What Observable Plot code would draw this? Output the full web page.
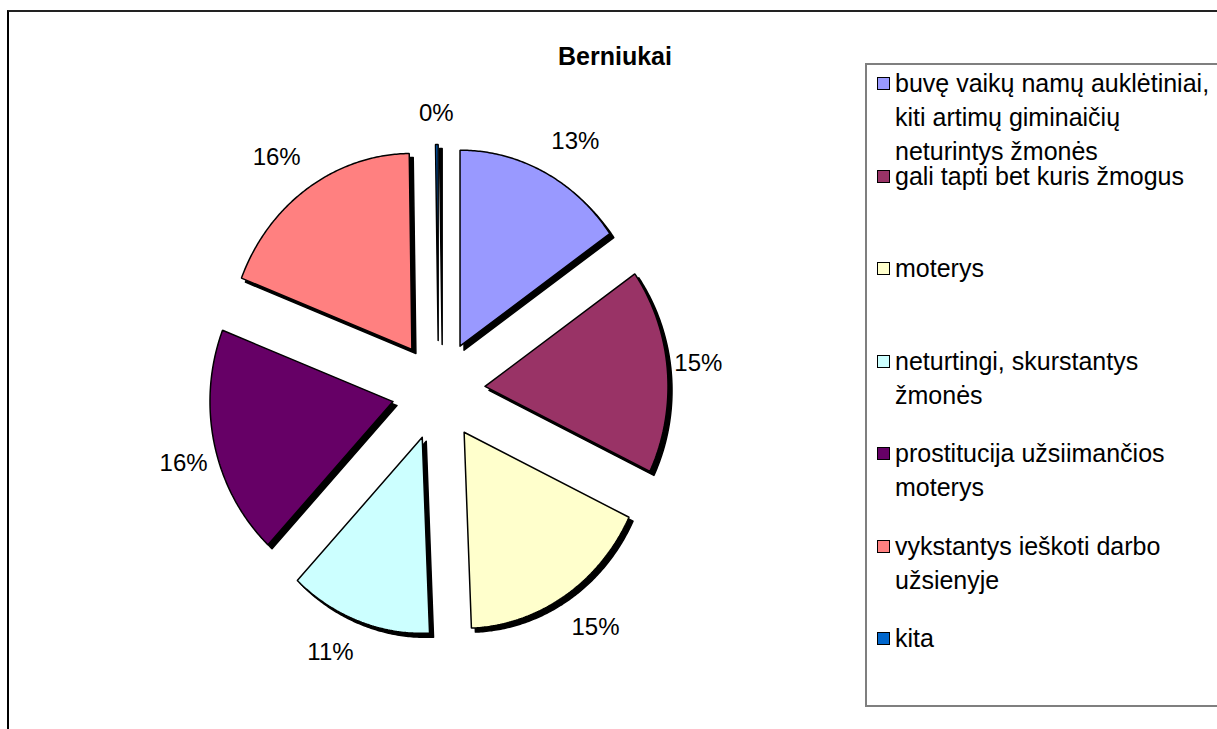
<!DOCTYPE html>
<html>
<head>
<meta charset="utf-8">
<script src="https://cdn.jsdelivr.net/npm/d3@7"></script>
<script src="https://cdn.jsdelivr.net/npm/@observablehq/plot@0.6"></script>
<style>
  html, body { margin: 0; padding: 0; background: #fff; }
  body { font-family: "Liberation Sans", Arial, sans-serif; }
  #wrap { position: relative; width: 1217px; height: 729px; overflow: hidden; }
  #frame { position: absolute; left: 7px; top: 10px; width: 1400px; height: 900px;
           border-left: 2px solid #000; border-top: 2px solid #222; }
  #title { position: absolute; left: 0; width: 1230px; top: 41px; line-height: 30px;
           text-align: center; font-weight: bold; font-size: 25px; color: #000; }
  #legend { position: absolute; left: 865px; top: 63px; width: 400px; height: 640px;
            border: 2px solid #7f7f7f; }
  .entry { position: absolute; left: 10px; width: 360px; }
  .sw { position: absolute; left: 0; top: 11px; width: 11px; height: 11px; border: 1px solid #000; }
  .lab { position: absolute; left: 18px; width: 330px; font-size: 25px; line-height: 34px; color: #000; }
  #chart { position: absolute; left: 0; top: 0; }
</style>
</head>
<body>
<div id="wrap">
  <div id="frame"></div>
  <div id="title"></div>
  <div id="chart"></div>
  <div id="legend"></div>
</div>
<script>
const title = "Berniukai";
const categories = [
  "buvę vaikų namų auklėtiniai, kiti artimų giminaičių neturintys žmonės",
  "gali tapti bet kuris žmogus",
  "moterys",
  "neturtingi, skurstantys žmonės",
  "prostitucija užsiimančios moterys",
  "vykstantys ieškoti darbo užsienyje",
  "kita"
];
const values = [13.2, 14.6, 14.9, 10.9, 16.4, 16.3, 0.2];
const colors = ["#9999FF", "#993366", "#FFFFCC", "#CCFFFF", "#660066", "#FF8080", "#0066CC"];

document.getElementById("title").textContent = title;

const explode = 0.255;
// label offset beyond the slice edge (in data units), squashed near the axes
const offX = 0.169, offY = 0.16, squash = 2.6;
const clamp1 = v => Math.max(-1, Math.min(1, v));

const arcs = d3.pie().sort(null).value(d => d.value)(
  categories.map((c, i) => ({cat: c, value: values[i]}))
);

const points = [];
const labels = [];
arcs.forEach(a => {
  const mid = (a.startAngle + a.endAngle) / 2;
  const ox = explode * Math.sin(mid), oy = explode * Math.cos(mid);
  const cat = a.data.cat;
  points.push({cat, x: ox, y: oy});
  const n = Math.max(2, Math.ceil((a.endAngle - a.startAngle) / 0.01));
  for (let k = 0; k <= n; k++) {
    const t = a.startAngle + (a.endAngle - a.startAngle) * k / n;
    points.push({cat, x: ox + Math.sin(t), y: oy + Math.cos(t)});
  }
  points.push({cat, x: ox, y: oy});
  const ex = (1 + explode) * Math.sin(mid), ey = (1 + explode) * Math.cos(mid);
  labels.push({
    x: ex + offX * clamp1(squash * Math.sin(mid)),
    y: ey + offY * clamp1(squash * Math.cos(mid)),
    text: Math.round(a.data.value) + "%"
  });
});

const plot = Plot.plot({
  width: 860,
  height: 729,
  margin: 0,
  style: {background: "transparent", overflow: "visible"},
  x: {domain: [-1, 1], range: [255, 621], axis: null},
  y: {domain: [-1, 1], range: [586, 194], axis: null},
  color: {domain: categories, range: colors},
  marks: [
    Plot.line(points, {x: "x", y: "y", z: "cat", fill: "black", stroke: "black", strokeWidth: 1.5, dx: 4, dy: 4, curve: "linear"}),
    Plot.line(points, {x: "x", y: "y", z: "cat", fill: "cat", stroke: "black", strokeWidth: 1.5, strokeLinejoin: "miter", curve: "linear"}),
    Plot.text(labels, {x: "x", y: "y", text: "text", fontSize: 24, fontFamily: "Liberation Sans, Arial, sans-serif", fill: "black"})
  ]
});
document.getElementById("chart").appendChild(plot);

const legend = document.getElementById("legend");
categories.forEach((c, i) => {
  const e = document.createElement("div");
  e.className = "entry";
  e.style.top = (1 + 92.5 * i) + "px";
  const sw = document.createElement("div");
  sw.className = "sw";
  sw.style.background = colors[i];
  const lab = document.createElement("div");
  lab.className = "lab";
  lab.textContent = c;
  e.appendChild(sw);
  e.appendChild(lab);
  legend.appendChild(e);
});
</script>
</body>
</html>
